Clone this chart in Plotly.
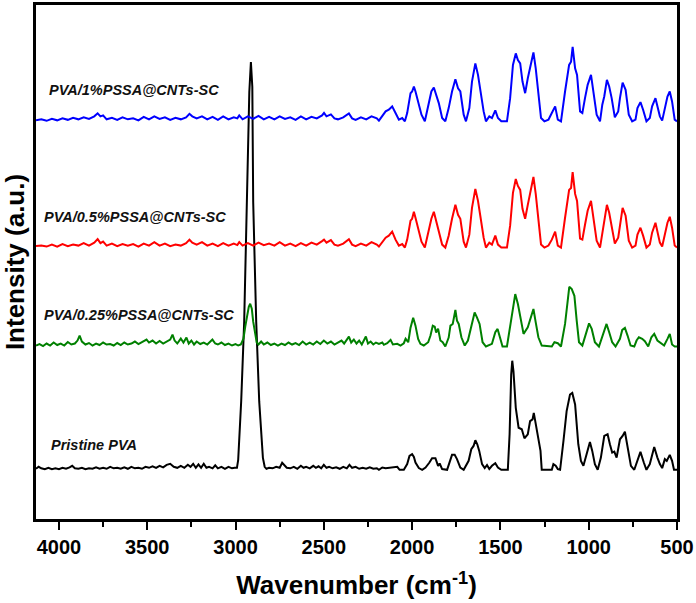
import plotly.graph_objects as go

# ---------------- data (wavenumber cm-1, intensity a.u. above each trace's own baseline) ----------------
pristine_pts = [
    (4130, 1), (4115, 3), (4100, 1.5), (4080, 0.5), (4060, 2), (4040, 0.5), (4020, 1.5), (4000, 0.5),
    (3980, 2), (3960, 1), (3940, 2.5), (3925, 4), (3910, 1.5), (3890, 1), (3870, 2), (3850, 0.5),
    (3830, 1.5), (3810, 1), (3790, 2.5), (3770, 1), (3750, 2), (3730, 1), (3710, 3), (3690, 1.5),
    (3670, 2), (3650, 1), (3630, 2.5), (3610, 1), (3590, 3), (3570, 1.5), (3550, 2), (3530, 1),
    (3510, 3), (3490, 2), (3470, 3.5), (3450, 2), (3430, 4), (3410, 2.5), (3390, 5), (3370, 6),
    (3350, 3), (3330, 2), (3310, 4), (3290, 2), (3270, 5), (3255, 3), (3240, 6), (3225, 2),
    (3210, 5.5), (3195, 2), (3180, 6), (3165, 2), (3150, 3), (3130, 1.5), (3115, 4.5), (3100, 1.5),
    (3080, 3), (3060, 1), (3040, 3), (3020, 1.5), (3005, 2),
    (2992, 2), (2985, 10), (2968, 69), (2951, 149), (2934, 269), (2922, 380), (2913, 410),
    (2905, 385), (2900, 269), (2883, 149), (2866, 69), (2845, 12), (2835, 3), (2825, 1),
    (2810, 2), (2790, 1.5), (2770, 3), (2750, 2), (2736, 7), (2725, 5), (2710, 2), (2690, 1.5),
    (2670, 3), (2650, 1), (2630, 4), (2615, 2), (2600, 3), (2580, 1.5), (2560, 4), (2545, 2),
    (2530, 3.5), (2515, 1.5), (2500, 5), (2485, 2), (2470, 3), (2450, 1.5), (2430, 2.5), (2410, 1),
    (2390, 3), (2370, 1.5), (2355, 5), (2340, 2), (2320, 3), (2300, 1), (2280, 2), (2260, 1),
    (2240, 2.5), (2220, 1), (2200, 1.5),
    (2188, 0), (2169, 2.3), (2150, 1.5), (2132, 2), (2113, 2.3), (2084, 3), (2071, 0), (2047, 0),
    (2028, 5.7), (2015, 14), (2000, 15.7), (1990, 13), (1981, 7.3), (1962, 1.7), (1943, 0),
    (1924, 2.3), (1902, 7.3), (1887, 11.7), (1868, 11.7), (1853, 4), (1844, 6.3), (1830, 0.7),
    (1802, 0), (1789, 7.3), (1774, 15), (1759, 15), (1746, 10.7), (1727, 2.3), (1708, 0),
    (1680, 9), (1665, 20.7), (1652, 24), (1642, 29.7), (1631, 25.7), (1620, 19), (1604, 5.7),
    (1589, 1.7), (1576, 4.7), (1563, 0.7), (1548, 4), (1529, 6.7), (1514, 2.3), (1495, 0),
    (1458, 0), (1448, 35.7), (1439, 95.7), (1433, 109.7), (1426, 99), (1413, 62.3), (1397, 42.3),
    (1379, 40.7), (1364, 31.7), (1345, 35.7), (1332, 49), (1318, 50.7), (1311, 57.3), (1300, 45.7),
    (1285, 29), (1273, 19), (1266, 0), (1209, 0), (1200, 5.7), (1187, 4), (1175, 0.7), (1162, 0),
    (1143, 29), (1125, 59), (1106, 75.7), (1093, 77.3), (1077, 65.7), (1059, 25.7), (1044, 9),
    (1030, 4), (1012, 15.7), (993, 28), (980, 19), (965, 5.7), (949, 0), (931, 12.3), (912, 34),
    (893, 35.7), (880, 25.7), (867, 17.3), (855, 18.3), (842, 12.3), (823, 30.7), (808, 34),
    (795, 38.3), (780, 22.3), (761, 4), (742, 0), (724, 9), (707, 18), (688, 7.3), (673, 0),
    (654, 5.7), (629, 23), (611, 12.3), (597, 5.7), (584, 1.7), (569, 10.7), (558, 9), (541, 15),
    (528, 9), (517, 0), (500, 0),
]

green_pts = [
    (4130, 1), (4110, 2.5), (4090, 0.5), (4070, 3), (4050, 1), (4030, 4), (4010, 1.5), (3990, 3),
    (3970, 1), (3950, 4.5), (3930, 2), (3910, 3), (3895, 6), (3883, 11), (3870, 5), (3850, 2),
    (3830, 3.5), (3810, 1), (3790, 3), (3770, 1.5), (3750, 4), (3730, 2), (3710, 2.5), (3690, 1),
    (3670, 3.5), (3650, 1.5), (3630, 4), (3610, 2), (3590, 3), (3570, 5), (3550, 2.5), (3530, 4.5),
    (3504, 7), (3490, 4), (3470, 6), (3450, 3), (3430, 5.5), (3410, 3), (3390, 5), (3370, 7),
    (3357, 12), (3345, 6), (3330, 3), (3310, 8), (3295, 4), (3278, 9), (3265, 3), (3250, 6),
    (3235, 2), (3220, 5), (3200, 2.5), (3180, 4), (3160, 2), (3145, 5), (3131, 7), (3115, 3),
    (3100, 2), (3080, 4), (3060, 1.5), (3040, 3), (3020, 1), (3000, 2.5), (2985, 1), (2970, 2),
    (2955, 8), (2945, 20), (2935, 30), (2925, 40), (2917, 43), (2908, 38), (2900, 25), (2890, 12),
    (2880, 4), (2870, 2), (2855, 5), (2840, 2), (2820, 4), (2800, 1.5), (2780, 3), (2760, 1),
    (2740, 3), (2720, 1.5), (2700, 4), (2680, 2), (2660, 3.5), (2640, 1.5), (2620, 5), (2600, 2),
    (2580, 4), (2560, 2), (2540, 5), (2520, 2.5), (2500, 6), (2480, 3), (2460, 5), (2440, 2),
    (2420, 4), (2400, 6), (2385, 3), (2370, 7), (2358, 10), (2345, 4), (2330, 7), (2315, 3),
    (2300, 6), (2285, 2), (2270, 8), (2262, 10), (2250, 3), (2235, 5), (2220, 2), (2205, 4),
    (2188, 2.7), (2169, 4), (2160, 1.7), (2141, 3.3), (2122, 6.7), (2109, 2), (2084, 2.7), (2066, 1),
    (2047, 3.3), (2037, 7.7), (2022, 4.3), (2009, 19), (1994, 29), (1981, 21), (1966, 7.7),
    (1953, 2.7), (1934, 1), (1909, 4.3), (1896, 11), (1883, 21), (1872, 20), (1864, 14), (1853, 18),
    (1840, 6), (1827, 4.3), (1812, 0), (1793, 9), (1783, 21), (1770, 22.7), (1755, 36.7),
    (1746, 26), (1736, 22.7), (1721, 9.3), (1702, 1), (1684, 6), (1665, 21), (1646, 34.3),
    (1633, 29.3), (1618, 22.7), (1601, 4.3), (1582, 0), (1548, 2.7), (1529, 14.3), (1516, 17.7),
    (1501, 9.3), (1488, 0), (1463, 0), (1445, 21), (1429, 36), (1416, 52.7), (1401, 42.7),
    (1388, 31), (1369, 12.7), (1345, 19.3), (1326, 29.3), (1313, 37.7), (1300, 24.3), (1285, 9.3),
    (1266, 1), (1209, 0), (1194, 4.3), (1175, 3.3), (1157, 0), (1134, 22.7), (1119, 46), (1110, 60),
    (1096, 57.7), (1081, 51), (1068, 26), (1055, 4.3), (1036, 1), (1017, 11), (998, 23.3),
    (983, 17.7), (965, 4.3), (942, 0), (923, 11), (899, 22.7), (884, 14.3), (867, 4.3), (848, 0),
    (823, 7.7), (810, 16.7), (795, 18.7), (780, 11), (763, 1), (742, 0), (729, 6), (716, 9.3),
    (697, 7.7), (682, 5.3), (663, 0), (645, 9.3), (629, 12.7), (611, 6), (592, 3.3), (573, 1),
    (554, 7.7), (541, 12.7), (528, 2), (513, 0), (500, 0),
]

red_pts = [
    (4130, 1.5), (4100, 2), (4070, 1), (4040, 3), (4010, 1), (3980, 3.5), (3950, 1.5), (3920, 3),
    (3890, 2), (3860, 4.5), (3830, 2), (3800, 5), (3781, 8.5), (3765, 4.5), (3750, 6), (3730, 2),
    (3700, 4), (3670, 1.5), (3640, 3.5), (3610, 2), (3580, 3.5), (3550, 1), (3520, 4), (3490, 2),
    (3460, 5.5), (3430, 2), (3400, 4), (3370, 1.5), (3340, 3), (3310, 2), (3280, 4.5), (3261, 8),
    (3245, 5), (3220, 3), (3190, 5.5), (3160, 2), (3130, 4), (3100, 1.5), (3070, 4.5), (3040, 2),
    (3010, 4), (2990, 2.5), (2979, 5.5), (2960, 2), (2930, 4.5), (2900, 2), (2870, 5), (2840, 2.5),
    (2810, 4), (2780, 2), (2750, 5.5), (2720, 2), (2690, 4), (2660, 1.5), (2630, 4.5), (2600, 2),
    (2570, 5), (2540, 3), (2510, 6.5), (2499, 8), (2485, 5), (2460, 7.5), (2440, 3), (2420, 2),
    (2390, 4), (2358, 8.5), (2340, 3), (2320, 1.5), (2290, 4), (2260, 2), (2230, 5.5), (2200, 3),
    (2188, 1), (2169, 5), (2150, 10), (2132, 12), (2113, 16), (2094, 8), (2075, 2), (2056, 3.5),
    (2041, 0), (2028, 8), (2009, 27), (2000, 29), (1990, 36), (1981, 30), (1966, 18), (1947, 6),
    (1928, 0), (1909, 14), (1891, 29), (1877, 36), (1864, 27), (1849, 18), (1830, 3), (1812, 0),
    (1793, 12), (1774, 29), (1755, 43), (1740, 33), (1727, 29), (1708, 6), (1695, 0), (1676, 13),
    (1661, 40), (1642, 59), (1627, 47), (1614, 32), (1595, 10), (1582, 0), (1563, 5), (1548, 3),
    (1529, 12), (1514, 3), (1495, 0), (1463, 0), (1445, 22), (1429, 55), (1413, 69), (1401, 62),
    (1388, 58), (1375, 39), (1360, 29), (1345, 43), (1330, 57), (1313, 71), (1300, 54), (1285, 30),
    (1270, 3), (1251, 0), (1228, 2), (1209, 8), (1190, 16), (1175, 2), (1157, 0), (1134, 30),
    (1111, 58), (1100, 60), (1091, 76), (1077, 54), (1066, 47), (1049, 9), (1036, 8), (1021, 23),
    (1006, 37), (987, 47), (974, 30), (955, 7), (936, 0), (923, 16), (912, 25), (897, 43), (884, 35),
    (870, 23), (852, 4), (833, 10), (823, 23), (808, 40), (791, 32), (773, 7), (754, 0), (735, 2),
    (724, 13), (707, 20), (692, 12), (673, 0), (654, 3), (641, 15), (622, 25), (607, 14), (597, 5),
    (584, 1), (569, 14), (554, 25), (541, 31), (528, 20), (513, 2), (500, 0),
]

blue_pts = [
    (4130, 1), (4100, 2), (4070, 0.5), (4040, 2.5), (4010, 1), (3980, 3), (3950, 1.5), (3920, 3.5),
    (3890, 2), (3860, 4), (3830, 2.5), (3800, 5), (3781, 8), (3765, 5), (3750, 6), (3730, 2),
    (3700, 3.5), (3670, 1.5), (3640, 4), (3610, 2), (3580, 3), (3550, 1), (3520, 4.5), (3490, 2),
    (3460, 5), (3430, 2.5), (3400, 4), (3370, 1.5), (3340, 3.5), (3310, 2), (3280, 4), (3261, 7.5),
    (3245, 5), (3220, 3), (3190, 5), (3160, 2), (3130, 4.5), (3100, 1.5), (3070, 5), (3040, 2),
    (3010, 4), (2990, 3), (2979, 6), (2960, 2), (2930, 5), (2900, 2.5), (2870, 5.5), (2840, 2),
    (2810, 4.5), (2780, 2), (2750, 5), (2720, 2.5), (2690, 4), (2660, 1.5), (2630, 5), (2600, 2),
    (2570, 4.5), (2540, 3), (2510, 6), (2499, 8.5), (2485, 5), (2460, 7), (2440, 3), (2420, 2),
    (2390, 4), (2358, 8), (2340, 3), (2320, 1.5), (2290, 4), (2260, 2), (2230, 5), (2200, 3),
    (2188, 0.7), (2169, 5), (2150, 10), (2132, 11.7), (2113, 15), (2094, 8.3), (2075, 1.7),
    (2056, 3.3), (2041, 0), (2028, 8.3), (2009, 28.3), (2000, 30), (1990, 35), (1981, 30),
    (1966, 18.3), (1947, 6.7), (1928, 0), (1909, 15), (1891, 30), (1877, 34), (1864, 26.7),
    (1849, 18.3), (1830, 3.3), (1812, 0), (1793, 13.3), (1774, 30), (1755, 42.3), (1740, 33.3),
    (1727, 30), (1708, 6.7), (1695, 0), (1676, 13.3), (1661, 40), (1642, 58.3), (1627, 46.7),
    (1614, 31.7), (1595, 10), (1582, 0), (1563, 5), (1548, 3.3), (1529, 11), (1514, 3.3), (1495, 0),
    (1463, 0), (1445, 23.3), (1429, 56.7), (1413, 68.3), (1401, 61.7), (1388, 58.3), (1375, 40),
    (1360, 28.3), (1345, 43.3), (1330, 56.7), (1313, 69.3), (1300, 53.3), (1285, 30), (1270, 3.3),
    (1251, 0), (1228, 1.7), (1209, 8.3), (1190, 15), (1175, 1.7), (1157, 0), (1134, 30),
    (1111, 56.7), (1100, 60), (1091, 75), (1077, 53.3), (1066, 46.7), (1049, 10), (1036, 8.3),
    (1021, 23.3), (1006, 36.7), (987, 46.7), (974, 30), (955, 6.7), (936, 0), (923, 16.7), (912, 25),
    (897, 41.7), (884, 35), (870, 23.3), (852, 4), (833, 10), (823, 23.3), (808, 39), (791, 31.7),
    (773, 6.7), (754, 0), (735, 1.7), (724, 13.3), (707, 19.3), (692, 11.7), (673, 0), (654, 3.3),
    (641, 15), (622, 23.3), (607, 13.3), (597, 5), (584, 0.7), (569, 13.3), (554, 25), (541, 30),
    (528, 20), (513, 1.7), (500, 0),
]

series_names = ["Pristine PVA", "PVA/0.25%PSSA@CNTs-SC", "PVA/0.5%PSSA@CNTs-SC", "PVA/1%PSSA@CNTs-SC"]
series_points = [pristine_pts, green_pts, red_pts, blue_pts]
series_offsets = [49.5, 173.5, 273, 400]
series_colors = ["black", "#008000", "#ff0000", "#0000ff"]
label_wn = [4058, 4097, 4097, 4069]
label_y = [74, 205, 304, 432]

x_ticks = [4000, 3500, 3000, 2500, 2000, 1500, 1000, 500]
x_minor = [3750, 3250, 2750, 2250, 1750, 1250, 750]

FONT = "Arial, Liberation Sans, sans-serif"

fig = go.Figure()
for name, pts, off, col in zip(series_names, series_points, series_offsets, series_colors):
    xs = [p[0] for p in pts]
    ys = [p[1] + off for p in pts]
    fig.add_trace(go.Scatter(x=xs, y=ys, mode="lines", name=name,
                             line=dict(color=col, width=2), showlegend=False))

for name, xw, yv in zip(series_names, label_wn, label_y):
    fig.add_annotation(x=xw, y=yv, text="<b><i>" + name + "</i></b>", showarrow=False,
                       xanchor="left", yanchor="middle",
                       font=dict(family=FONT, size=14.5, color="#111"))

fig.update_layout(
    width=696, height=603,
    margin=dict(l=36, r=17, t=2, b=84),
    paper_bgcolor="white", plot_bgcolor="white",
    font=dict(family=FONT, color="black"),
)
fig.update_xaxes(
    range=[4130, 500], tickmode="array", tickvals=x_ticks,
    ticktext=["<b>" + str(v) + "</b>" for v in x_ticks],
    showline=True, mirror=True, linecolor="black", linewidth=2.5,
    ticks="outside", ticklen=8, tickwidth=2, tickcolor="black",
    minor=dict(ticks="outside", ticklen=5, tickwidth=2, tickcolor="black", tickvals=x_minor),
    tickfont=dict(family=FONT, size=20, color="black"),
    showgrid=False, zeroline=False,
    title=dict(text="<b>Wavenumber (cm<sup>-1</sup>)</b>",
               font=dict(family=FONT, size=26, color="black"), standoff=20),
)
fig.update_yaxes(
    range=[0, 517], showticklabels=False, ticks="",
    showline=True, mirror=True, linecolor="black", linewidth=2.5,
    showgrid=False, zeroline=False,
    title=dict(text="<b>Intensity (a.u.)</b>",
               font=dict(family=FONT, size=26, color="black"), standoff=6),
)

fig.write_html("out.html")
